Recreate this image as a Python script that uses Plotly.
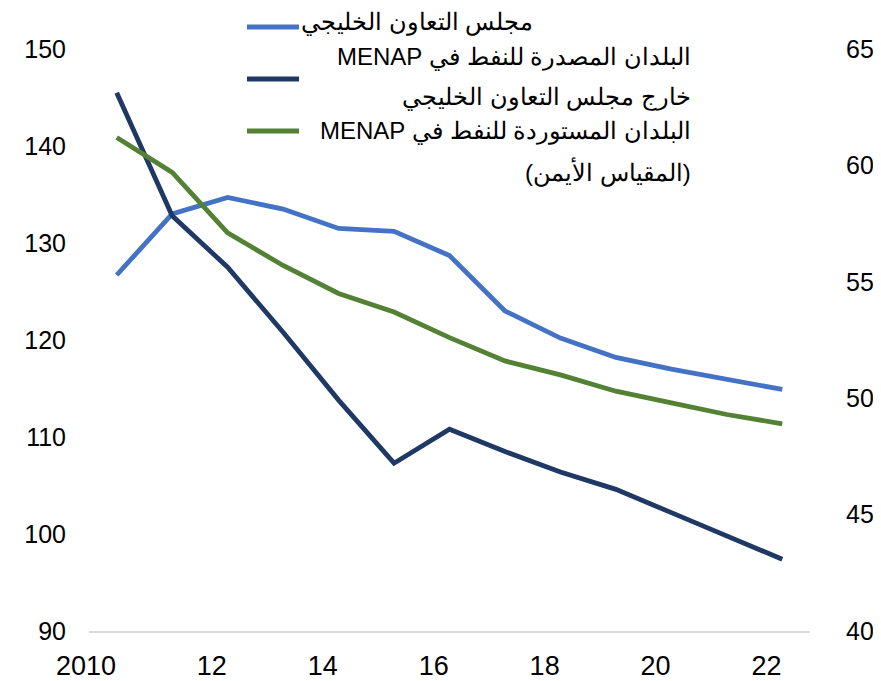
import plotly.graph_objects as go

years = list(range(2010, 2023))
gcc = [126.7, 133.0, 134.7, 133.5, 131.5, 131.2, 128.7, 123.0, 120.2, 118.2, 117.0, 115.9, 114.9]
non_gcc = [145.5, 132.8, 127.5, 120.8, 113.8, 107.3, 110.8, 108.5, 106.4, 104.6, 102.2, 99.8, 97.4]
importers = [61.2, 59.7, 57.1, 55.7, 54.5, 53.7, 52.6, 51.6, 51.0, 50.3, 49.8, 49.3, 48.9]

tick_years = [2010, 2012, 2014, 2016, 2018, 2020, 2022]
tick_text = ["2010", "12", "14", "16", "18", "20", "22"]

names = ["مجلس التعاون الخليجي",
         "البلدان المصدرة للنفط في MENAP خارج مجلس التعاون الخليجي",
         "البلدان المستوردة للنفط في MENAP (المقياس الأيمن)"]
colors = ["#4472C4", "#1F3864", "#548235"]

FONT = "Liberation Sans, Arial, sans-serif"
RLE, PDF = "\u202b", "\u202c"

fig = go.Figure()
fig.add_trace(go.Scatter(x=years, y=gcc, mode="lines", name=names[0],
                         line=dict(color=colors[0], width=4.8)))
fig.add_trace(go.Scatter(x=years, y=non_gcc, mode="lines", name=names[1],
                         line=dict(color=colors[1], width=4.8)))
fig.add_trace(go.Scatter(x=years, y=importers, mode="lines", name=names[2],
                         line=dict(color=colors[2], width=4.8), yaxis="y2"))

OFF = 8  # page body margin
W, H = 881 - OFF, 681 - OFF
L, R, T, B = 89 - OFF, 810 - OFF, 49 - OFF, 631 - OFF


def px(x):
    return (x - OFF - L) / (R - L)


def py(y):
    return (B - (y - OFF)) / (B - T)


# legend (built manually to allow right-aligned RTL text); positions in window px
legend_lines = [
    ("مجلس التعاون الخليجي", 535, 22),
    ("البلدان المصدرة للنفط في MENAP", 693, 57),
    ("خارج مجلس التعاون الخليجي", 693, 97),
    ("البلدان المستوردة للنفط في MENAP", 693, 131),
    ("(المقياس الأيمن)", 693, 172),
]
annotations = []
for txt, xr, yc in legend_lines:
    annotations.append(dict(text=RLE + txt + PDF, xref="paper", yref="paper",
                            x=px(xr), y=py(yc),
                            xanchor="right", yanchor="middle", showarrow=False,
                            align="right", font=dict(size=24, color="black", family=FONT)))
shapes = []
for c, yc in zip(colors, [27, 79, 131]):
    shapes.append(dict(type="line", xref="paper", yref="paper", x0=px(247), x1=px(299),
                       y0=py(yc), y1=py(yc), line=dict(color=c, width=5)))

fig.update_layout(
    width=W, height=H,
    margin=dict(l=L, r=W - R, t=T, b=H - B, autoexpand=False),
    paper_bgcolor="white", plot_bgcolor="white",
    showlegend=False,
    font=dict(family=FONT, size=25, color="black"),
    xaxis=dict(range=[2009.5, 2022.5], tickvals=tick_years, ticktext=tick_text,
               showgrid=False, zeroline=False, showline=True, linecolor="#D9D9D9",
               linewidth=1.5, ticks="", ticklabelposition="outside left",
               ticklabelstandoff=10, tickfont=dict(size=27), automargin=False),
    yaxis=dict(range=[90, 150], dtick=10, showgrid=False, zeroline=False,
               showline=False, ticks="", ticklabelstandoff=22, automargin=False),
    yaxis2=dict(range=[40, 65], dtick=5, overlaying="y", side="right",
                showgrid=False, zeroline=False, showline=False, ticks="",
                ticklabelstandoff=35, automargin=False),
    annotations=annotations,
    shapes=shapes,
)

fig.write_html("out.html")
